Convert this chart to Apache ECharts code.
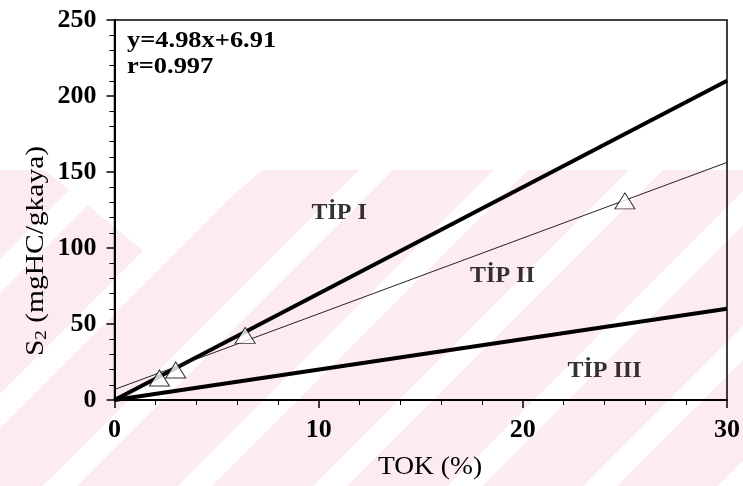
<!DOCTYPE html>
<html>
<head>
<meta charset="utf-8">
<script src="https://cdn.jsdelivr.net/npm/echarts@6/dist/echarts.min.js"></script>
<style>html,body{margin:0;padding:0;background:#fff}#c{width:743px;height:486px}</style>
</head>
<body>
<div id="c"></div>
<script>
// Data
const tokPoints = [2.2, 3.0, 6.4, 25.0];
const s2Points = [14.5, 19.7, 42.5, 131.0];
const lineX = [0, 30];
const tip1Y = [0, 210];
const tip3Y = [0, 60];
const regY = [6.91, 156.31];
const xTicks = [0, 10, 20, 30];
const yTicks = [0, 50, 100, 150, 200, 250];
const regionLabels = ['TİP I', 'TİP II', 'TİP III'];
const regionLabelX = [11.0, 19.0, 24.0];
const regionLabelY = [123, 81.5, 19];
const equationText = ['y=4.98x+6.91', 'r=0.997'];
const xAxisTitle = 'TOK (%)';
const yAxisTitle = ['S', '2', ' (mgHC/gkaya)'];

const FONT = 'Liberation Serif';
const chart = echarts.init(document.getElementById('c'), null, {renderer: 'canvas'});

// watermark decoration (pink band with white diagonal stripes)
const wm = [];
wm.push({type: 'rect', z: -20, silent: true, shape: {x: 0, y: 170, width: 743, height: 316}, style: {fill: '#fdecef'}});
for (let k = -3; k <= 6; k++) {
  const x0 = 43 + 135 * k;
  wm.push({type: 'polygon', z: -19, silent: true,
    shape: {points: [[x0, 486], [x0 + 34, 486], [x0 + 34 + 316, 170], [x0 + 316, 170]]},
    style: {fill: '#ffffff'}});
}
wm.push({type: 'polygon', z: -19, silent: true, shape: {points: [[45, 170], [157, 262], [262, 170]]}, style: {fill: '#ffffff'}});

const texts = [
  {type: 'text', x: 127, y: 30, scaleX: 1.15, z: 10, style: {x: 0, y: 0, text: equationText[0], font: 'bold 23px "' + FONT + '"', fill: '#000'}},
  {type: 'text', x: 127, y: 56, scaleX: 1.15, z: 10, style: {x: 0, y: 0, text: equationText[1], font: 'bold 23px "' + FONT + '"', fill: '#000'}},
  {type: 'text', x: 430, y: 467, scaleX: 1.1, z: 10, style: {x: 0, y: 0, text: xAxisTitle, font: '25px "' + FONT + '"', fill: '#000', align: 'center', verticalAlign: 'middle'}},
  {type: 'text', x: 36, y: 251, rotation: Math.PI / 2, scaleX: 1.18, z: 10,
    style: {
      x: 0, y: 0,
      text: '{a|' + yAxisTitle[0] + '}{s|' + yAxisTitle[1] + '}{a|' + yAxisTitle[2] + '}',
      align: 'center', verticalAlign: 'middle',
      rich: {
        a: {fontFamily: FONT, fontSize: 25, fill: '#000', color: '#000'},
        s: {fontFamily: FONT, fontSize: 16, fill: '#000', color: '#000', padding: [11, 0, 0, 0]}
      }
    }}
];

chart.setOption({
  backgroundColor: '#ffffff',
  animation: false,
  graphic: wm.concat(texts),
  grid: {left: 114.5, right: 16, top: 20, bottom: 86, show: true, borderColor: '#000', borderWidth: 1.5, backgroundColor: 'transparent'},
  xAxis: {
    type: 'value', min: xTicks[0], max: xTicks[xTicks.length - 1], interval: 10,
    axisLine: {lineStyle: {color: '#000', width: 2}},
    axisTick: {inside: false, length: 8, lineStyle: {color: '#000', width: 1.5}},
    minorTick: {show: true, splitNumber: 5, length: 5, lineStyle: {color: '#000', width: 1}},
    axisLabel: {fontFamily: FONT, fontSize: 26, fontWeight: 'bold', color: '#000', margin: 17, showMaxLabel: true},
    splitLine: {show: false}
  },
  yAxis: {
    type: 'value', min: yTicks[0], max: yTicks[yTicks.length - 1], interval: 50,
    axisLine: {show: true, lineStyle: {color: '#000', width: 2}},
    axisTick: {show: true, length: 8, lineStyle: {color: '#000', width: 1.5}},
    minorTick: {show: true, splitNumber: 5, length: 5, lineStyle: {color: '#000', width: 1}},
    axisLabel: {fontFamily: FONT, fontSize: 26, fontWeight: 'bold', color: '#000', margin: 18},
    splitLine: {show: false}
  },
  series: [
    {type: 'line', name: 'TİP I sınırı', data: lineX.map((x, i) => [x, tip1Y[i]]), symbol: 'none',
      lineStyle: {color: '#000', width: 4}, z: 3},
    {type: 'line', name: 'TİP III sınırı', data: lineX.map((x, i) => [x, tip3Y[i]]), symbol: 'none',
      lineStyle: {color: '#000', width: 4}, z: 3},
    {type: 'line', name: 'regresyon', data: lineX.map((x, i) => [x, regY[i]]), symbol: 'none',
      lineStyle: {color: '#222', width: 1}, z: 3},
    {type: 'scatter', name: 'örnekler', data: tokPoints.map((x, i) => [x, s2Points[i]]),
      symbol: 'triangle', symbolSize: [20, 16],
      itemStyle: {color: '#ffffff', borderColor: '#000', borderWidth: 1}, z: 4},
    {type: 'scatter', name: 'etiketler', data: regionLabels.map((t, i) => [regionLabelX[i], regionLabelY[i], t]),
      symbolSize: 0, silent: true, z: 5,
      label: {show: true, position: 'inside', formatter: p => p.data[2],
        fontFamily: FONT, fontSize: 24, fontWeight: 'bold', color: '#000'}}
  ]
});
</script>
</body>
</html>
